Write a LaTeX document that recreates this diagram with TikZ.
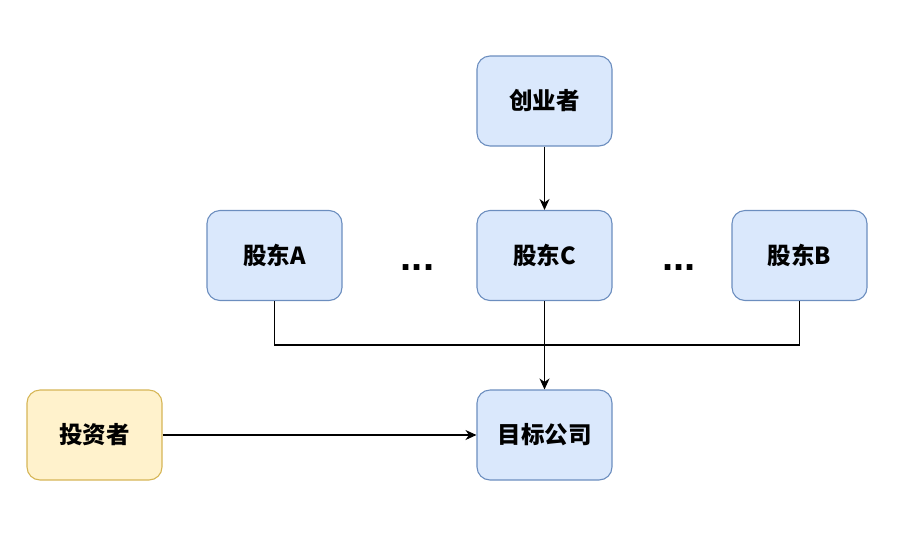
\documentclass[tikz,border=0pt]{standalone}
\usepackage{fontspec}
\setmainfont{Noto Sans CJK SC}
\newfontfamily\dotfont{Liberation Sans}
\usetikzlibrary{arrows.meta}
\definecolor{bfill}{HTML}{DAE8FC}
\definecolor{bdraw}{HTML}{6C8EBF}
\definecolor{yfill}{HTML}{FFF2CC}
\definecolor{ydraw}{HTML}{D6B656}
\begin{document}
\begin{tikzpicture}[x=1pt,y=-1pt,
  bbox/.style={draw=bdraw,fill=bfill,line width=1.1pt,rounded corners=13pt,minimum width=135pt,minimum height=90pt,inner sep=0pt,font=\fontsize{23.5}{27}\selectfont\bfseries},
  ybox/.style={bbox,draw=ydraw,fill=yfill},
  dots/.style={font=\dotfont\fontsize{40}{40}\selectfont\bfseries,inner sep=0pt,anchor=base},
  conn/.style={line width=1.1pt,draw=black},
  arr/.style={conn,-{Stealth[length=11pt,width=10pt,inset=3.5pt]}}]
\useasboundingbox (0,0) rectangle (904,555);
\node[bbox] (f) at (544.5,101) {创业者};
\node[bbox] (a) at (274.5,255.5) {股东A};
\node[bbox] (c) at (544.5,255.5) {股东C};
\node[bbox] (b) at (799.5,255.5) {股东B};
\node[bbox] (t) at (544.5,435) {目标公司};
\node[ybox] (i) at (94.5,435) {投资者};
\node[dots] (d1) at (417.5,270.5) {...};
\node[dots] (d2) at (679,270.5) {...};
\coordinate (la) at (274.5,345);
\coordinate (lb) at (799.5,345);
\draw[arr] (f) -- (c);
\draw[arr] (c) -- (t);
\draw[conn] (a.south) -- (la) -- (lb) -- (b.south);
\draw[arr] (i) -- (t);
\end{tikzpicture}
\end{document}
